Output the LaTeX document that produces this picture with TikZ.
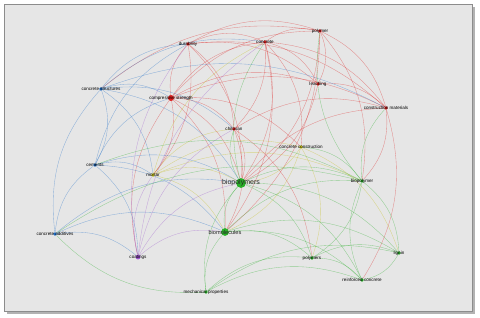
\documentclass[tikz,border=0pt]{standalone}
\usepackage{fontspec}
\setmainfont{Liberation Sans}
\usetikzlibrary{positioning}

\definecolor{cred}{RGB}{222,30,30}
\definecolor{cgreen}{RGB}{40,175,40}
\definecolor{cblue}{RGB}{30,110,200}
\definecolor{cyell}{RGB}{195,190,20}
\definecolor{cpurp}{RGB}{155,85,205}
\definecolor{panel}{RGB}{230,230,230}

\pgfdeclarelayer{bg}
\pgfdeclarelayer{links}
\pgfsetlayers{bg,links,main}

\begin{document}
\begin{tikzpicture}[
  x=0.05cm, y=-0.05cm,
  dot/.style={circle, fill=#1, inner sep=0pt, minimum size=5.5pt},
  lbl/.style={font=\fontsize{6.5}{7}\selectfont, text=black, inner sep=0pt},
  big/.style={font=\fontsize{10}{11}\selectfont, text=black!85, inner sep=0pt},
  mid/.style={font=\fontsize{8}{9}\selectfont, text=black!85, inner sep=0pt},
  edge/.style={draw=#1, opacity=0.45, line width=0.5pt}
]
\useasboundingbox (0,0) rectangle (480,317);

% Frame with shadow
\begin{pgfonlayer}{bg}
  \fill[black!30] (7,7) rectangle (475,314);
  \fill[panel, draw=black!45, line width=0.6pt] (4,4) rectangle (472,311);
\end{pgfonlayer}

% Red cluster
\node[dot=cred, label={[lbl]center:durability}] (dur) at (188,44) {};
\node[dot=cred, label={[lbl]center:concrete}] (conc) at (265,42) {};
\node[dot=cred, label={[lbl]center:polymer}] (poly) at (320,31) {};
\node[dot=cred, label={[lbl]center:leaching}] (leach) at (318,84) {};
\node[dot=cred, label={[lbl]center:construction materials}] (cmat) at (386,108) {};
\node[dot=cred, minimum size=8.5pt, label={[lbl]center:compressive strength}] (comp) at (171,98) {};
\node[dot=cred, label={[lbl]center:chitosan}] (chit) at (234,129) {};

% Blue cluster
\node[dot=cblue, label={[lbl]center:concrete structures}] (cstruct) at (101,89) {};
\node[dot=cblue, label={[lbl]center:cements}] (cem) at (95,165) {};
\node[dot=cblue, label={[lbl]center:concrete additives}] (cadd) at (55,234) {};

% Yellow cluster
\node[dot=cyell, label={[lbl]center:mortar}] (mort) at (153,175) {};
\node[dot=cyell, label={[lbl]center:concrete construction}] (ccons) at (301,147) {};

% Purple cluster
\node[dot=cpurp, minimum size=7pt, label={[lbl]center:coatings}] (coat) at (138,257) {};

% Green cluster
\node[dot=cgreen, minimum size=14pt, label={[big]center:biopolymers}] (bps) at (241,183) {};
\node[dot=cgreen, minimum size=11pt, label={[mid]center:biomolecules}] (bmol) at (225,232) {};
\node[dot=cgreen, label={[lbl]center:biopolymer}] (bp) at (362,181) {};
\node[dot=cgreen, label={[lbl]center:polymers}] (polys) at (312,258) {};
\node[dot=cgreen, label={[lbl]center:lignin}] (lig) at (399,253) {};
\node[dot=cgreen, label={[lbl]center:reinforced concrete}] (rcon) at (362,280) {};
\node[dot=cgreen, label={[lbl]center:mechanical properties}] (mech) at (206,292) {};

% Links
\begin{pgfonlayer}{links}
\foreach \a/\b/\c in {
  dur/conc/cred, dur/poly/cred, comp/dur/cred, dur/chit/cred, dur/bps/cred,
  dur/cmat/cred, conc/poly/cred, comp/conc/cred, conc/chit/cred, conc/bps/cred,
  conc/leach/cred, conc/cmat/cred, comp/poly/cred, poly/leach/cred, poly/cmat/cred,
  poly/bps/cred, poly/bmol/cred, cstruct/poly/cred, leach/cmat/cred, leach/bps/cred,
  comp/chit/cred, comp/bps/cred, comp/mort/cred, comp/bmol/cred, coat/comp/cred,
  comp/ccons/cred, chit/bps/cred, chit/bmol/cred, cmat/bp/cred, bps/cmat/cred,
  cmat/rcon/cred, conc/ccons/cred, poly/bp/cred, dur/mort/cred, chit/polys/cred,
  comp/leach/cred, comp/cmat/cred, dur/leach/cred, chit/cmat/cred, conc/bmol/cred,
  cstruct/cem/cblue, cstruct/comp/cblue, cstruct/bps/cblue, cadd/cstruct/cblue,
  cstruct/dur/cblue, cstruct/conc/cblue, cem/mort/cblue, cem/bps/cblue, cadd/cem/cblue,
  cem/bmol/cblue, cem/coat/cblue, cadd/bps/cblue, cadd/bmol/cblue, cadd/coat/cblue,
  cem/comp/cblue, cstruct/chit/cblue, cstruct/cmat/cblue, cem/dur/cblue, cstruct/mort/cblue,
  mort/bps/cyell, mort/ccons/cyell, mort/bmol/cyell, mort/bp/cyell, ccons/bps/cyell,
  ccons/bmol/cyell, mort/chit/cyell, ccons/polys/cyell, ccons/lig/cyell, mort/conc/cyell,
  coat/bps/cpurp, coat/bmol/cpurp, coat/chit/cpurp, coat/dur/cpurp, coat/mort/cpurp,
  coat/conc/cpurp,
  bmol/bps/cgreen, bps/bp/cgreen, bps/polys/cgreen, bps/lig/cgreen, bps/rcon/cgreen,
  mech/bps/cgreen, mech/bmol/cgreen, bmol/polys/cgreen, bmol/rcon/cgreen, bmol/lig/cgreen,
  bmol/bp/cgreen, bp/polys/cgreen, rcon/bp/cgreen, bp/lig/cgreen, polys/rcon/cgreen,
  polys/lig/cgreen, lig/rcon/cgreen, mech/rcon/cgreen, mech/polys/cgreen, ccons/bp/cgreen,
  cadd/bp/cgreen, cem/bp/cgreen, mech/cadd/cgreen, bp/cmat/cgreen, bps/conc/cgreen,
  mech/lig/cgreen, bp/poly/cgreen, bps/chit/cgreen}
  \draw[edge=\c] (\a) to[bend left=24] (\b);
\end{pgfonlayer}

\end{tikzpicture}
\end{document}
